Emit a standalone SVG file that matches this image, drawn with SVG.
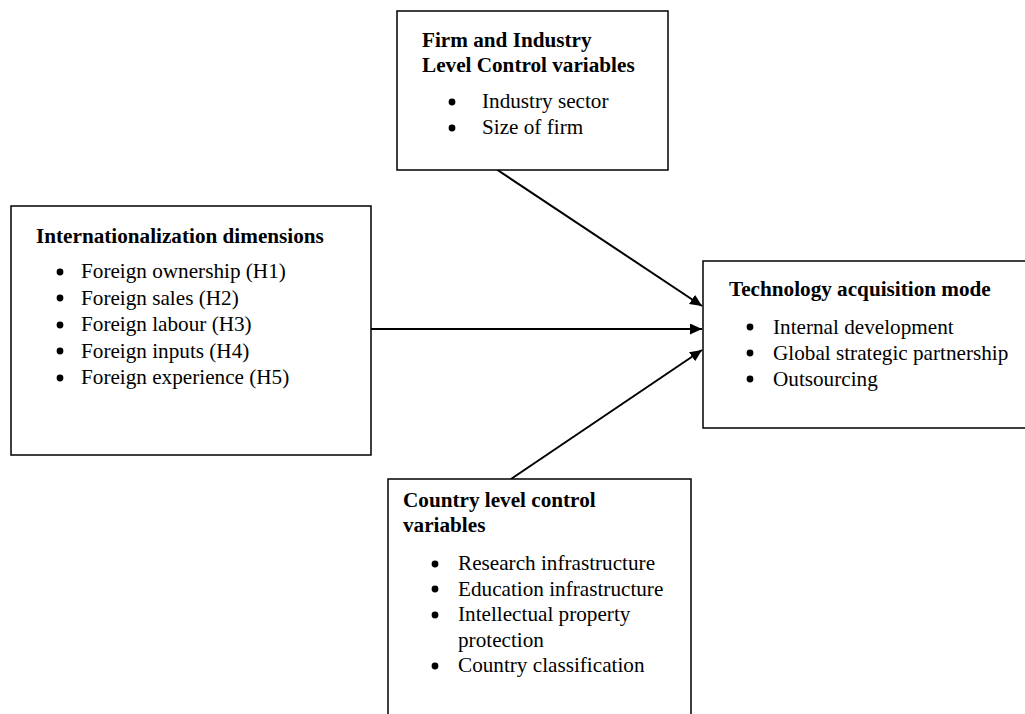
<svg xmlns="http://www.w3.org/2000/svg" width="1025" height="714" viewBox="0 0 1025 714">
<defs>
<style>
.box{fill:#fff;stroke:#000;stroke-width:1.5}
.t{font-family:"Liberation Serif","Times New Roman",serif;font-size:21.2px;fill:#000}
.b{font-weight:bold}
.dot{fill:#000}
.con{stroke:#000;stroke-width:2;fill:none;marker-end:url(#ah)}
</style>
<marker id="ah" markerUnits="userSpaceOnUse" markerWidth="13" markerHeight="11" refX="12" refY="5.5" orient="auto">
<path d="M0,0 L12,5.5 L0,11 z" fill="#000"/>
</marker>
</defs>
<rect width="1025" height="714" fill="#fff"/>
<g id="connectors">
<line class="con" x1="493" y1="167" x2="702" y2="306"/>
<line class="con" x1="371" y1="329" x2="702" y2="329"/>
<line class="con" x1="511" y1="479" x2="702" y2="350"/>
</g>
<g id="firm-industry">
<rect class="box" x="397" y="11" width="271" height="159"/>
<text class="t b" x="422" y="47">Firm and Industry</text>
<text class="t b" x="422" y="72">Level Control variables</text>
<circle class="dot" cx="452" cy="102" r="3.4"/>
<text class="t" x="482" y="108">Industry sector</text>
<circle class="dot" cx="452" cy="128" r="3.4"/>
<text class="t" x="482" y="134">Size of firm</text>
</g>
<g id="internationalization">
<rect class="box" x="11" y="206" width="360" height="249"/>
<text class="t b" x="36" y="243">Internationalization dimensions</text>
<circle class="dot" cx="60" cy="272" r="3.4"/>
<text class="t" x="81" y="278">Foreign ownership (H1)</text>
<circle class="dot" cx="60" cy="298" r="3.4"/>
<text class="t" x="81" y="304.5">Foreign sales (H2)</text>
<circle class="dot" cx="60" cy="325" r="3.4"/>
<text class="t" x="81" y="331">Foreign labour (H3)</text>
<circle class="dot" cx="60" cy="351" r="3.4"/>
<text class="t" x="81" y="357.5">Foreign inputs (H4)</text>
<circle class="dot" cx="60" cy="378" r="3.4"/>
<text class="t" x="81" y="384">Foreign experience (H5)</text>
</g>
<g id="technology">
<rect class="box" x="703" y="261" width="330" height="167"/>
<text class="t b" x="729" y="296">Technology acquisition mode</text>
<circle class="dot" cx="750" cy="327" r="3.4"/>
<text class="t" x="773" y="333.5">Internal development</text>
<circle class="dot" cx="750" cy="353" r="3.4"/>
<text class="t" x="773" y="359.5">Global strategic partnership</text>
<circle class="dot" cx="750" cy="379" r="3.4"/>
<text class="t" x="773" y="385.5">Outsourcing</text>
</g>
<g id="country">
<rect class="box" x="388" y="479" width="303" height="260"/>
<text class="t b" x="403" y="507">Country level control</text>
<text class="t b" x="403" y="532">variables</text>
<circle class="dot" cx="435" cy="564" r="3.4"/>
<text class="t" x="458" y="570">Research infrastructure</text>
<circle class="dot" cx="435" cy="589" r="3.4"/>
<text class="t" x="458" y="595.5">Education infrastructure</text>
<circle class="dot" cx="435" cy="615" r="3.4"/>
<text class="t" x="458" y="621">Intellectual property</text>
<text class="t" x="458" y="646.5">protection</text>
<circle class="dot" cx="435" cy="666" r="3.4"/>
<text class="t" x="458" y="672">Country classification</text>
</g>
</svg>
